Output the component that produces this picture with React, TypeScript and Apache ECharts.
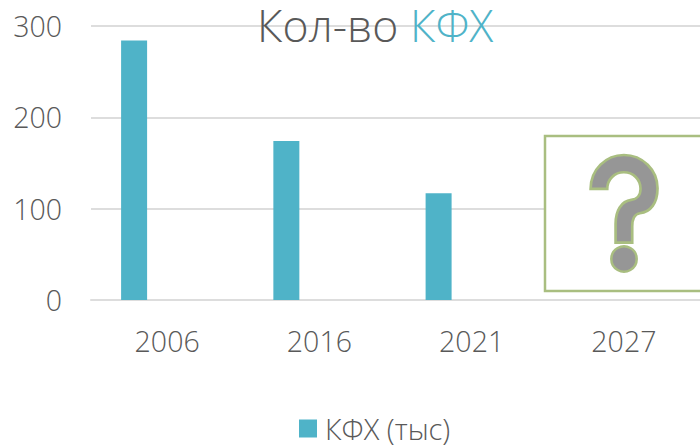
import React, { useEffect, useRef } from "react";
import * as echarts from "echarts";

const categories = ["2006", "2016", "2021", "2027"];
const kfhValues: (number | null)[] = [284, 174, 117, null];
const spacerValues: (number | null)[] = [null, null, null, null];
const yTicks = { min: 0, max: 300, interval: 100 };

const FONT = '"Open Sans", sans-serif';
const TEAL = "#4FB3C8";
const GREY = "#595959";
const GRID = "#DDDDDD";
const GREEN = "#A9BE80";

const questionPath =
  "M212 207 C212 148 258 105 312 105 C368 105 413 150 413 205 C413 250 392 276 360 280 C346 282 337 296 337 320 L337 368 L287 368 L287 312 C287 272 304 244 334 240 C350 238 362 226 362 207 C362 178 340 157 312 157 C284 157 262 178 262 207 Z";
echarts.graphic.registerShape("qmark", (echarts.graphic as any).extendPath(questionPath, {}));

export default function App() {
  const ref = useRef<HTMLDivElement>(null);
  useEffect(() => {
    const chart = echarts.init(ref.current!, undefined, { renderer: "svg" });
    chart.setOption({
      animation: false,
      backgroundColor: "#FFFFFF",
      textStyle: { fontFamily: FONT },
      grid: { left: 91, width: 611, top: 26, height: 274, containLabel: false },
      title: {
        left: 257,
        top: 2,
        padding: 0,
        text: "{a|Кол-во }{b|КФХ}",
        textStyle: {
          rich: {
            a: { fontFamily: FONT, fontSize: 44.5, fontWeight: 300, color: GREY },
            b: { fontFamily: FONT, fontSize: 44.5, fontWeight: 300, color: TEAL },
          },
        },
      },
      legend: {
        data: ["КФХ (тыс)"],
        left: 299,
        top: 414,
        padding: 0,
        itemWidth: 18,
        itemHeight: 18,
        icon: "rect",
        textStyle: { fontFamily: FONT, fontSize: 29, fontWeight: 300, color: GREY, padding: [0, 0, 0, 3] },
      },
      xAxis: {
        type: "category",
        data: categories,
        axisTick: { show: false },
        axisLine: { lineStyle: { color: GRID, width: 2 } },
        axisLabel: { fontFamily: FONT, fontSize: 28.5, fontWeight: 300, color: GREY, margin: 26 },
      },
      yAxis: {
        type: "value",
        ...yTicks,
        axisLine: { show: false },
        axisTick: { show: false },
        axisLabel: { fontFamily: FONT, fontSize: 28.5, fontWeight: 300, color: GREY, margin: 29 },
        splitLine: { lineStyle: { color: GRID, width: 2 } },
      },
      series: [
        { name: "КФХ (тыс)", type: "bar", data: kfhValues, barWidth: 26, barGap: "154%", itemStyle: { color: TEAL } },
        { name: "Прогноз", type: "bar", data: spacerValues, barWidth: 26 },
      ],
      graphic: [
        {
          type: "rect",
          z: 10,
          shape: { x: 545, y: 136, width: 170, height: 155 },
          style: { fill: "#FFFFFF", stroke: GREEN, lineWidth: 2.5 },
        },
        {
          type: "qmark",
          z: 11,
          x: 520,
          y: 120,
          scaleX: 1 / 3,
          scaleY: 1 / 3,
          style: { fill: "#969696", stroke: GREEN, lineWidth: 8 },
        },
        {
          type: "circle",
          z: 11,
          shape: { cx: 624, cy: 259, r: 12.7 },
          style: { fill: "#969696", stroke: GREEN, lineWidth: 2.5 },
        },
      ],
    });
    return () => chart.dispose();
  }, []);
  return <div ref={ref} style={{ width: 700, height: 445, position: "fixed", left: 0, top: 0 }} />;
}
